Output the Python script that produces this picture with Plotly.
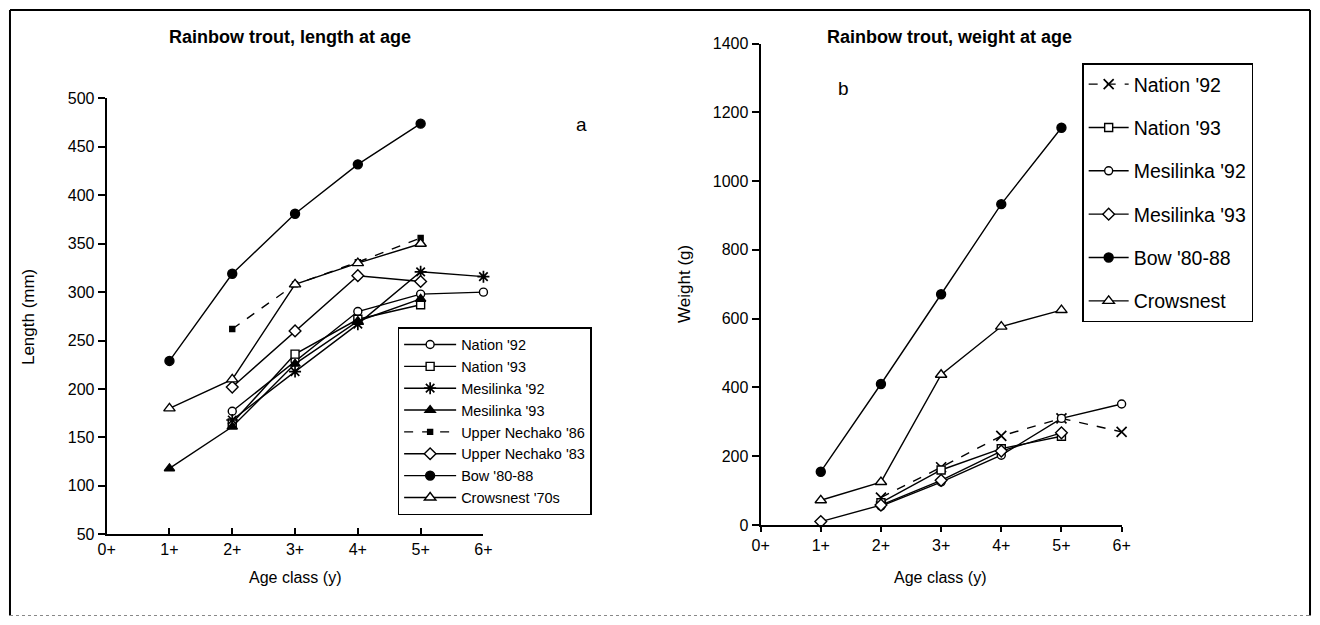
import plotly.graph_objects as go

W, H = 1320, 625
FONT = "Liberation Sans, Arial, sans-serif"

# ---------------- data ----------------
age_ticks = [0, 1, 2, 3, 4, 5, 6]
age_labels = ["0+", "1+", "2+", "3+", "4+", "5+", "6+"]
len_ticks = [50, 100, 150, 200, 250, 300, 350, 400, 450, 500]
wt_ticks = [0, 200, 400, 600, 800, 1000, 1200, 1400]

# (a) length at age (mm)
nation92_len_x = [2, 3, 4, 5, 6]
nation92_len = [177, 229, 280, 298, 300]
nation93_len_x = [2, 3, 4, 5]
nation93_len = [165, 236, 272, 287]
mesilinka92_len_x = [2, 3, 4, 5, 6]
mesilinka92_len = [168, 218, 267, 321, 316]
mesilinka93_len_x = [1, 2, 3, 4, 5]
mesilinka93_len = [118, 161, 226, 270, 293]
nechako86_len_x = [2, 3, 4, 5]
nechako86_len = [262, 308, 331, 356]
nechako83_len_x = [2, 3, 4, 5]
nechako83_len = [202, 260, 317, 311]
bow_len_x = [1, 2, 3, 4, 5]
bow_len = [229, 319, 381, 432, 474]
crowsnest_len_x = [1, 2, 3, 4, 5]
crowsnest_len = [180, 210, 308, 330, 350]

# (b) weight at age (g)
nation92_wt_x = [2, 3, 4, 5, 6]
nation92_wt = [80, 168, 259, 310, 271]
nation93_wt_x = [2, 3, 4, 5]
nation93_wt = [65, 160, 222, 258]
mesilinka92_wt_x = [2, 3, 4, 5, 6]
mesilinka92_wt = [55, 125, 203, 310, 352]
mesilinka93_wt_x = [1, 2, 3, 4, 5]
mesilinka93_wt = [10, 58, 130, 215, 268]
bow_wt_x = [1, 2, 3, 4, 5]
bow_wt = [155, 410, 671, 933, 1155]
crowsnest_wt_x = [1, 2, 3, 4, 5]
crowsnest_wt = [72, 125, 437, 577, 625]


def px(x):
    return x / W


def py(y):
    return 1 - y / H


fig = go.Figure()


def add(x, y, name, symbol, xa, ya, legend, filled=False, size=8, dash="solid",
        lw=1.4, group=None):
    if symbol.endswith("-open"):
        marker = dict(symbol=symbol, size=size, color="black",
                      line=dict(color="black", width=1.7))
    else:
        marker = dict(symbol=symbol, size=size,
                      color="black" if filled else "white",
                      line=dict(color="black", width=1.4))
    fig.add_trace(go.Scatter(
        x=x, y=y, name=name, mode="lines+markers",
        line=dict(color="black", width=lw, dash=dash),
        marker=marker, xaxis=xa, yaxis=ya, legend=legend,
        legendgroup=group, cliponaxis=False,
    ))


# left panel
add(nation92_len_x, nation92_len, "Nation '92", "circle", "x", "y", "legend")
add(nation93_len_x, nation93_len, "Nation '93", "square", "x", "y", "legend")
add(mesilinka92_len_x, mesilinka92_len, "Mesilinka '92", "asterisk-open", "x", "y", "legend", size=10)
add(mesilinka93_len_x, mesilinka93_len, "Mesilinka '93", "triangle-up", "x", "y", "legend", filled=True, size=9)
add(nechako86_len_x, nechako86_len, "Upper Nechako '86", "square", "x", "y", "legend", filled=True, size=5, dash="dash")
add(nechako83_len_x, nechako83_len, "Upper Nechako '83", "diamond", "x", "y", "legend", size=9)
add(bow_len_x, bow_len, "Bow '80-88", "circle", "x", "y", "legend", filled=True, size=9)
add(crowsnest_len_x, crowsnest_len, "Crowsnest '70s", "triangle-up", "x", "y", "legend", size=10)

# right panel
add(nation92_wt_x, nation92_wt, "Nation '92", "x-thin-open", "x2", "y2", "legend2", size=10, dash="dash", group="r1")
add(nation93_wt_x, nation93_wt, "Nation '93", "square", "x2", "y2", "legend2", group="r2")
add(mesilinka92_wt_x, mesilinka92_wt, "Mesilinka '92", "circle", "x2", "y2", "legend2", group="r3")
add(mesilinka93_wt_x, mesilinka93_wt, "Mesilinka '93", "diamond", "x2", "y2", "legend2", size=9, group="r4")
add(bow_wt_x, bow_wt, "Bow '80-88", "circle", "x2", "y2", "legend2", filled=True, size=9, group="r5")
add(crowsnest_wt_x, crowsnest_wt, "Crowsnest", "triangle-up", "x2", "y2", "legend2", size=10, group="r6")

axis_common = dict(showgrid=False, zeroline=False, showline=True, linecolor="black",
                   linewidth=2, tickwidth=1.5,
                   tickcolor="black", tickfont=dict(family=FONT, size=16, color="black"))

fig.update_layout(
    width=W, height=H, margin=dict(l=0, r=0, t=0, b=0),
    paper_bgcolor="white", plot_bgcolor="white",
    font=dict(family=FONT, color="black"),
    xaxis=dict(domain=[px(99), px(481)], range=[0, 6], anchor="y", ticks="inside", ticklen=6,
               tickvals=age_ticks, ticktext=age_labels, **axis_common),
    yaxis=dict(domain=[py(541), py(93)], range=[50, 500], anchor="x", ticks="outside", ticklen=7,
               tickvals=len_ticks, **axis_common),
    xaxis2=dict(domain=[px(762), px(1128)], range=[0, 6], anchor="y2", ticks="outside", ticklen=5,
                tickvals=age_ticks, ticktext=age_labels, **axis_common),
    yaxis2=dict(domain=[py(531.5), py(36.5)], range=[0, 1400], anchor="x2", ticks="outside", ticklen=7,
                tickvals=wt_ticks, **axis_common),
    legend=dict(x=px(394), y=py(328), xanchor="left", yanchor="top",
                bgcolor="white", bordercolor="black", borderwidth=1.5,
                font=dict(family=FONT, size=14.5, color="black"),
                itemwidth=52),
    legend2=dict(x=px(1088), y=py(57), xanchor="left", yanchor="top",
                 bgcolor="white", bordercolor="black", borderwidth=1.5,
                 font=dict(family=FONT, size=19.5, color="black"),
                 tracegroupgap=15, itemwidth=40),
    showlegend=True,
)

annots = [
    dict(x=px(285), y=py(30), text="<b>Rainbow trout, length at age</b>", size=18),
    dict(x=px(953), y=py(30), text="<b>Rainbow trout, weight at age</b>", size=18),
    dict(x=px(290), y=py(585), text="Age class (y)", size=16),
    dict(x=px(944), y=py(585), text="Age class (y)", size=16),
    dict(x=px(580), y=py(120), text="a", size=19),
    dict(x=px(846), y=py(83), text="b", size=19),
]
for a in annots:
    fig.add_annotation(x=a["x"], y=a["y"], xref="paper", yref="paper", text=a["text"],
                       showarrow=False, font=dict(family=FONT, size=a["size"], color="black"),
                       xanchor="center", yanchor="middle")
fig.add_annotation(x=px(20), y=py(318), xref="paper", yref="paper", text="Length (mm)",
                   textangle=-90, showarrow=False, xanchor="center", yanchor="middle",
                   font=dict(family=FONT, size=17, color="black"))
fig.add_annotation(x=px(685), y=py(284), xref="paper", yref="paper", text="Weight (g)",
                   textangle=-90, showarrow=False, xanchor="center", yanchor="middle",
                   font=dict(family=FONT, size=17, color="black"))

# outer frame
frame = [
    (1, 2, 1319, 2, "black", 2, "solid"),
    (1, 2, 1, 624.5, "black", 2, "solid"),
    (1319, 2, 1319, 624.5, "black", 2, "solid"),
    (1, 624.5, 1319, 624.5, "#888888", 1, "dot"),
]
for x0, y0, x1, y1, c, w, d in frame:
    fig.add_shape(type="line", xref="paper", yref="paper", x0=px(x0), y0=py(y0),
                  x1=px(x1), y1=py(y1), line=dict(color=c, width=w, dash=d))

fig.write_html(
    "out.html",
    config={"displayModeBar": False},
    post_script="document.body.style.margin='0';document.body.style.overflow='hidden';",
)
